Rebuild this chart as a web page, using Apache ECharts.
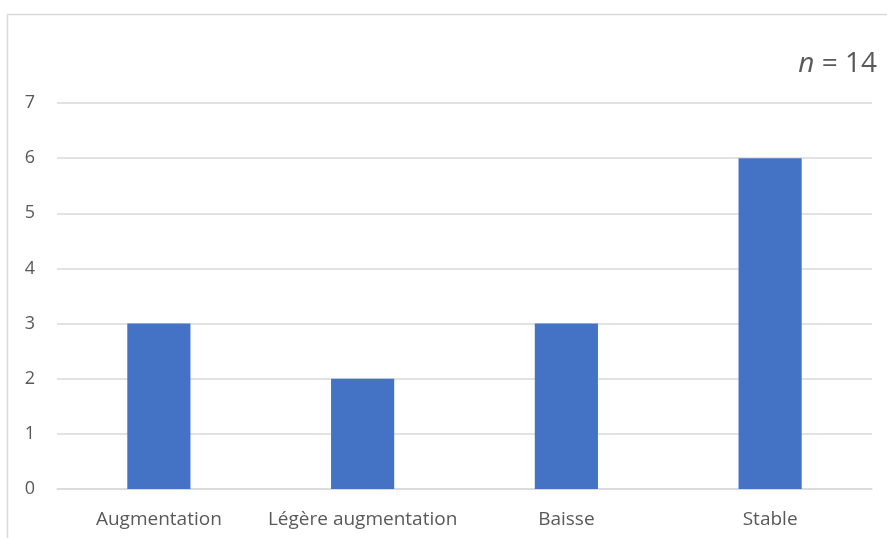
<!DOCTYPE html>
<html><head><meta charset="utf-8">
<script src="https://cdn.jsdelivr.net/npm/echarts@6/dist/echarts.min.js"></script>
<style>html,body{margin:0;padding:0;background:#fff}#c{width:887px;height:538px}</style>
</head><body><div id="c"></div>
<script>
var categories = ["Augmentation", "Légère augmentation", "Baisse", "Stable"];
var values = [3, 2, 3, 6];
var yTicks = [0, 1, 2, 3, 4, 5, 6, 7];
var nLabel = "14";

var chart = echarts.init(document.getElementById('c'), null, {renderer: 'canvas'});
var font = '"Open Sans", "Noto Sans", sans-serif';
chart.setOption({
  animation: false,
  backgroundColor: '#fff',
  graphic: [{
    type: 'rect', left: 5, top: 12,
    shape: {width: 900, height: 540},
    style: {fill: 'none', stroke: '#d9d9d9', lineWidth: 1.5}, silent: true
  }],
  title: {
    text: '{i|n} = ' + nLabel,
    right: 5, top: 45,
    textStyle: {
      rich: {i: {fontStyle: 'italic', fontSize: 28, color: '#595959', fontFamily: font}},
      fontSize: 28, color: '#595959', fontWeight: 'normal', fontFamily: font
    }
  },
  grid: {left: 57, right: 15, top: 103, bottom: 49, containLabel: false},
  xAxis: {
    type: 'category', data: categories,
    axisLine: {show: true, lineStyle: {color: '#d9d9d9', width: 1.5}},
    axisTick: {show: false},
    axisLabel: {color: '#595959', fontSize: 19, fontFamily: font, margin: 21, interval: 0}
  },
  yAxis: {
    type: 'value', min: yTicks[0], max: yTicks[yTicks.length - 1], interval: 1,
    axisLine: {show: false}, axisTick: {show: false},
    splitLine: {lineStyle: {color: '#d9d9d9', width: 1.5}},
    axisLabel: {color: '#595959', fontSize: 18, fontFamily: font, margin: 22}
  },
  series: [{
    type: 'bar', data: values, barWidth: '31%',
    itemStyle: {color: '#4472C4'}
  }]
});
</script></body></html>
